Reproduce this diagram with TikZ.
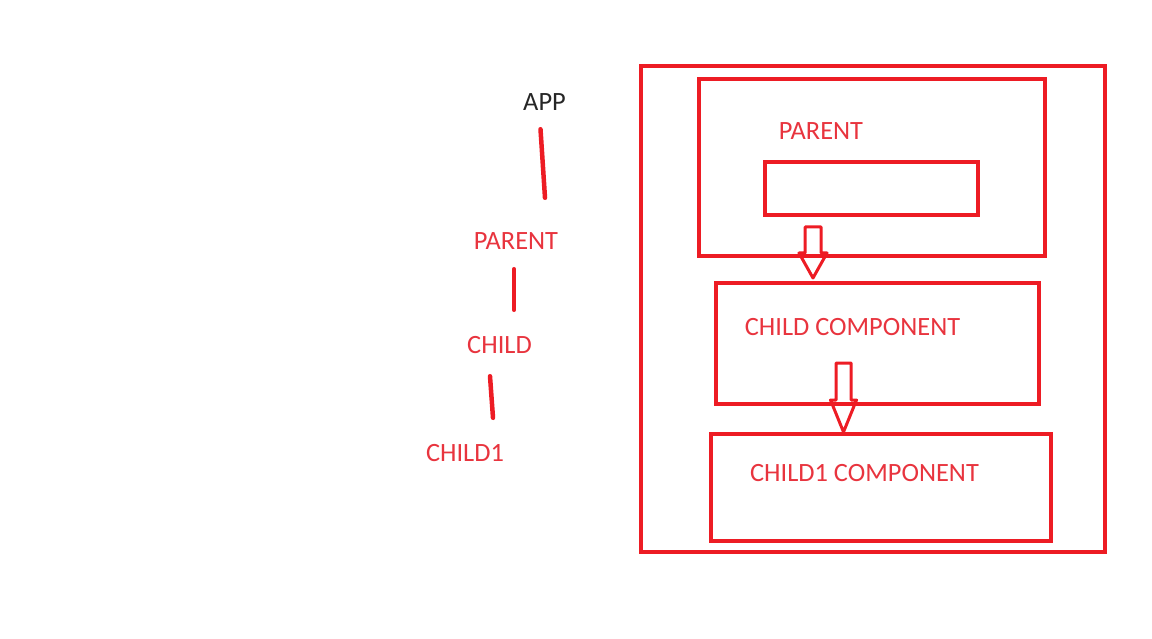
\documentclass[tikz,border=0pt]{standalone}
\usepackage{fontspec}
\setmainfont{Carlito}
\definecolor{paintred}{RGB}{237,28,36}
\definecolor{textred}{RGB}{232,52,62}
\definecolor{textgray}{RGB}{38,38,38}
\tikzstyle{label}=[font=\fontsize{26.4}{31}\selectfont, text=textred, inner sep=0pt, text height=17pt, text depth=0pt]
\tikzstyle{box}=[draw=paintred, line width=4pt, inner sep=0pt]
\tikzstyle{edge}=[draw=paintred, line width=4.5pt, line cap=round, -]
\tikzstyle{block arrow}=[draw=paintred, line width=3pt, line join=round]
\begin{document}
\begin{tikzpicture}[x=1pt, y=-1pt]
        \useasboundingbox (0,0) rectangle (1152,639);
        % tree on the left
        \node[label, text=textgray] (app) at (544.5,102) {APP};
        \foreach \pos/\name/\txt in {{(516,241)/parent/PARENT}, {(499.5,345)/child/CHILD}, {(465,453)/childone/CHILD1}}
            \node[label] (\name) at \pos {\txt};
        \path[edge] ([xshift=-4pt,yshift=-18.5pt]app.south) -- ([xshift=29pt,yshift=34.5pt]parent.north);
        \path[edge] ([xshift=-2pt,yshift=-19.5pt]parent.south) -- ([xshift=14.5pt,yshift=26.5pt]child.north);
        \path[edge] ([xshift=-9.5pt,yshift=-22.5pt]child.south) -- ([xshift=28pt,yshift=26.5pt]childone.north);
        % boxes on the right
        \node[box, minimum width=464pt, minimum height=486pt] (outer) at (873,309) {};
        \node[box, minimum width=346pt, minimum height=177pt] (parentbox) at (872,167.5) {};
        \node[box, minimum width=213pt, minimum height=53pt] (slot) at (871.5,188.5) {};
        \node[box, minimum width=323pt, minimum height=121pt] (childbox) at (877.5,343.5) {};
        \node[box, minimum width=340pt, minimum height=107pt] (childonebox) at (881,487.5) {};
        \node[label] (parenttext) at (821,131) {PARENT};
        \node[label] (childtext) at (852.5,327) {CHILD COMPONENT};
        \node[label] (childonetext) at (864.5,473) {CHILD1 COMPONENT};
        % hollow block arrows
        \foreach \x/\top/\base/\tip/\shaft/\head in {813/227/253/278/8/14, 843.5/363/400/432/7.5/13}
            \path[block arrow] (\x-\shaft,\top) -- (\x+\shaft,\top) -- (\x+\shaft,\base) -- (\x+\head,\base)
                -- (\x,\tip) -- (\x-\head,\base) -- (\x-\shaft,\base) -- cycle;
    \end{tikzpicture}
\end{document}
